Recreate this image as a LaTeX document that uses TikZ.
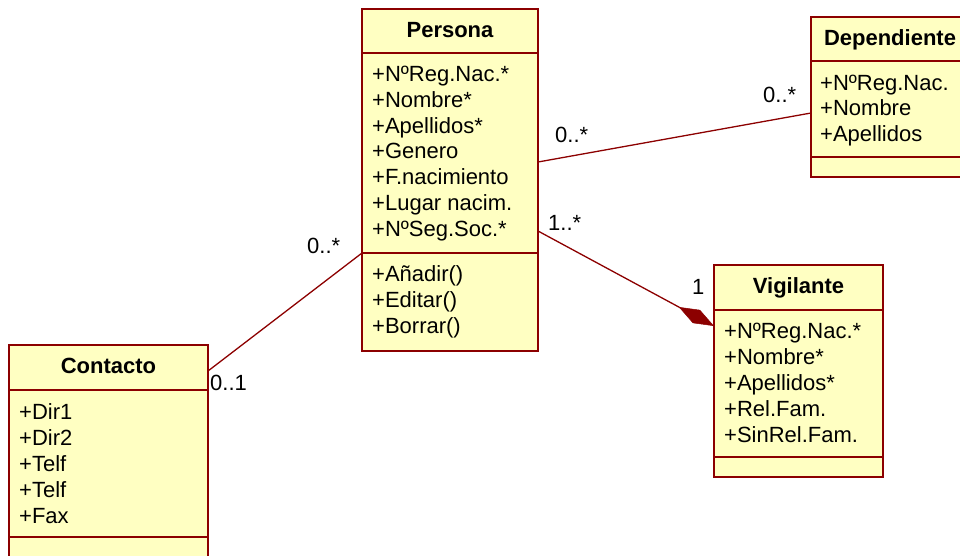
\documentclass[tikz,border=0pt]{standalone}
\usepackage{fontspec}
\setmainfont{Liberation Sans}
\usetikzlibrary{arrows.meta}
\definecolor{umlline}{RGB}{140,0,0}
\definecolor{umlfill}{RGB}{255,255,194}
\begin{document}
\begin{tikzpicture}[x=1pt,y=-1pt,
  classbox/.style={draw=umlline, fill=umlfill, line width=1.6pt, rectangle,
    inner sep=0pt, outer sep=0pt, anchor=north west},
  divider/.style={draw=umlline, line width=1.6pt},
  classname/.style={font=\fontsize{22}{26}\selectfont\bfseries, anchor=base, inner sep=0pt},
  member/.style={font=\fontsize{22}{26}\selectfont, anchor=base west, inner sep=0pt},
  mult/.style={font=\fontsize{22}{26}\selectfont, anchor=base west, inner sep=0pt},
  assoc/.style={draw=umlline, line width=1.3pt},
]
\useasboundingbox (0,0) rectangle (960,555);
\clip (0,0) rectangle (960,555);

% ---------- Persona ----------
\node[classbox, minimum width=176pt, minimum height=342pt] (persona) at (362,9) {};
\draw[divider] ([yshift=-44pt]persona.north west) -- ([yshift=-44pt]persona.north east);
\draw[divider] ([yshift=-244pt]persona.north west) -- ([yshift=-244pt]persona.north east);
\node[classname] (persona-t) at (450,37) {Persona};
\node[member] (persona-a1) at (372,81.5) {+NºReg.Nac.*};
\node[member] (persona-a2) at (372,107.3) {+Nombre*};
\node[member] (persona-a3) at (372,133.1) {+Apellidos*};
\node[member] (persona-a4) at (372,158.9) {+Genero};
\node[member] (persona-a5) at (372,184.7) {+F.nacimiento};
\node[member] (persona-a6) at (372,210.5) {+Lugar nacim.};
\node[member] (persona-a7) at (372,236.3) {+NºSeg.Soc.*};
\node[member] (persona-m1) at (372,281.5) {+Añadir()};
\node[member] (persona-m2) at (372,307.3) {+Editar()};
\node[member] (persona-m3) at (372,333.1) {+Borrar()};

% ---------- Dependiente ----------
\node[classbox, minimum width=160pt, minimum height=160pt] (dep) at (811,17) {};
\draw[divider] ([yshift=-44pt]dep.north west) -- ([yshift=-44pt]dep.north east);
\draw[divider] ([yshift=-140pt]dep.north west) -- ([yshift=-140pt]dep.north east);
\node[classname] (dep-t) at (890,45) {Dependiente};
\node[member] (dep-a1) at (820,90) {+NºReg.Nac.};
\node[member] (dep-a2) at (820,115.8) {+Nombre};
\node[member] (dep-a3) at (820,141.6) {+Apellidos};

% ---------- Vigilante ----------
\node[classbox, minimum width=169pt, minimum height=212pt] (vig) at (714,265) {};
\draw[divider] ([yshift=-45pt]vig.north west) -- ([yshift=-45pt]vig.north east);
\draw[divider] ([yshift=-192pt]vig.north west) -- ([yshift=-192pt]vig.north east);
\node[classname] (vig-t) at (798.5,293) {Vigilante};
\node[member] (vig-a1) at (724,338) {+NºReg.Nac.*};
\node[member] (vig-a2) at (724,364) {+Nombre*};
\node[member] (vig-a3) at (724,390) {+Apellidos*};
\node[member] (vig-a4) at (724,416) {+Rel.Fam.};
\node[member] (vig-a5) at (724,442) {+SinRel.Fam.};

% ---------- Contacto ----------
\node[classbox, minimum width=199pt, minimum height=240pt] (con) at (9,345) {};
\draw[divider] ([yshift=-45pt]con.north west) -- ([yshift=-45pt]con.north east);
\draw[divider] ([yshift=-192pt]con.north west) -- ([yshift=-192pt]con.north east);
\node[classname] (con-t) at (108.5,373) {Contacto};
\node[member] (con-a1) at (19,419) {+Dir1};
\node[member] (con-a2) at (19,445) {+Dir2};
\node[member] (con-a3) at (19,471) {+Telf};
\node[member] (con-a4) at (19,497) {+Telf};
\node[member] (con-a5) at (19,523) {+Fax};

% ---------- Associations ----------
\coordinate (pd-a) at ([yshift=-153pt]persona.north east);
\coordinate (pd-b) at ([yshift=-96pt]dep.north west);
\draw[assoc] (pd-a) -- (pd-b);
\node[mult] (pd-m1) at (555,142) {0..*};
\node[mult] (pd-m2) at (763,102) {0..*};

\coordinate (pv-a) at ([yshift=-222pt]persona.north east);
\coordinate (pv-b) at ([yshift=-61pt]vig.north west);
\draw[assoc, -{Diamond[length=40pt, width=15pt, fill=umlline, line width=0.5pt]}] (pv-a) -- (pv-b);
\node[mult] (pv-m1) at (548,230) {1..*};
\node[mult] (pv-m2) at (692,294) {1};

\coordinate (pc-a) at ([yshift=-244pt]persona.north west);
\coordinate (pc-b) at ([yshift=-26pt]con.north east);
\draw[assoc] (pc-a) -- (pc-b);
\node[mult] (pc-m1) at (307,253) {0..*};
\node[mult] (pc-m2) at (210,390) {0..1};
\end{tikzpicture}
\end{document}
